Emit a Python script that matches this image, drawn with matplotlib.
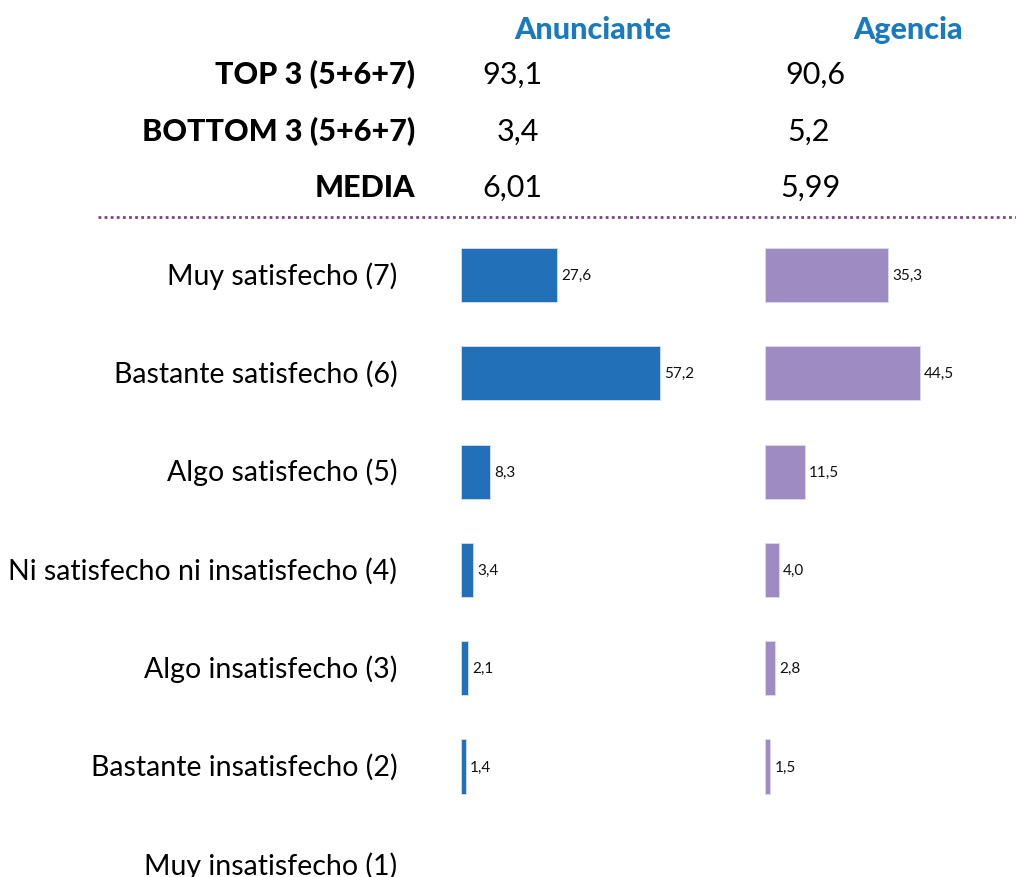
import numpy as np
import matplotlib
matplotlib.use('Agg')
import matplotlib.pyplot as plt
from matplotlib.lines import Line2D

plt.rcParams['font.family'] = ['Lato', 'DejaVu Sans']

# Data
categories = ['Muy satisfecho (7)', 'Bastante satisfecho (6)', 'Algo satisfecho (5)',
              'Ni satisfecho ni insatisfecho (4)', 'Algo insatisfecho (3)',
              'Bastante insatisfecho (2)', 'Muy insatisfecho (1)']
anunciante = [27.6, 57.2, 8.3, 3.4, 2.1, 1.4, np.nan]
agencia = [35.3, 44.5, 11.5, 4.0, 2.8, 1.5, np.nan]

summary_labels = ['TOP 3 (5+6+7)', 'BOTTOM 3 (5+6+7)', 'MEDIA']
anunciante_summary = ['93,1', '3,4', '6,01']
agencia_summary = ['90,6', '5,2', '5,99']

groups = ['Anunciante', 'Agencia']
colors = ['#2170b8', '#9e8bc2']
header_color = '#1a7abf'

W, H = 1016, 878
fig = plt.figure(figsize=(W / 100, H / 100), dpi=100)


def fx(px):
    return px / W


def fy(py):
    return 1 - py / H


# bar axes: 3.48 px per unit, xlim 0..70
xmax = 70
ax_w = 3.48 * xmax
row_px = 98.3
top_row = 276
ymin_val = (H - top_row) / row_px
ax_top = top_row - 0.5 * row_px

axes = []
for left_px in (461, 765):
    ax = fig.add_axes([fx(left_px), 0, ax_w / W, fy(ax_top)])
    ax.set_xlim(0, xmax)
    ax.set_ylim(ymin_val, -0.5)
    ax.axis('off')
    axes.append(ax)

y = np.arange(len(categories))
for ax, vals, c in zip(axes, [anunciante, agencia], colors):
    for yi, v in zip(y, vals):
        if np.isnan(v):
            continue
        ax.barh(yi, v, height=0.55, color=c, edgecolor='#d8def0', linewidth=0.6)
        ax.text(v + 1.2, yi, f'{v:.1f}'.replace('.', ','), va='center', ha='left',
                fontsize=11, color='#111111')

# category labels
for yi, cat in zip(y, categories):
    axes[0].text(-18.3, yi, cat, ha='right', va='center', fontsize=20.5, color='black')

# headers
fig.text(fx(593), fy(30), groups[0], ha='center', va='center', fontsize=22,
         fontweight='black', color=header_color)
fig.text(fx(908), fy(30), groups[1], ha='center', va='center', fontsize=22,
         fontweight='black', color=header_color)

# summary rows
row_y = [75, 132, 188]
value_x = [(512, 815), (518, 809), (512, 810)]
for ry, lab, a, g, (xa, xg) in zip(row_y, summary_labels, anunciante_summary,
                                   agencia_summary, value_x):
    fig.text(fx(415), fy(ry), lab, ha='right', va='center', fontsize=22,
             fontweight='black', color='black')
    fig.text(fx(xa), fy(ry), a, ha='center', va='center', fontsize=22, color='black')
    fig.text(fx(xg), fy(ry), g, ha='center', va='center', fontsize=22, color='black')

# dotted separator
fig.add_artist(Line2D([fx(98), fx(1016)], [fy(218), fy(218)], color='#7b3f8f',
                      linestyle=(0, (1, 1.2)), linewidth=2, transform=fig.transFigure))

fig.savefig('out.png', dpi=100)
